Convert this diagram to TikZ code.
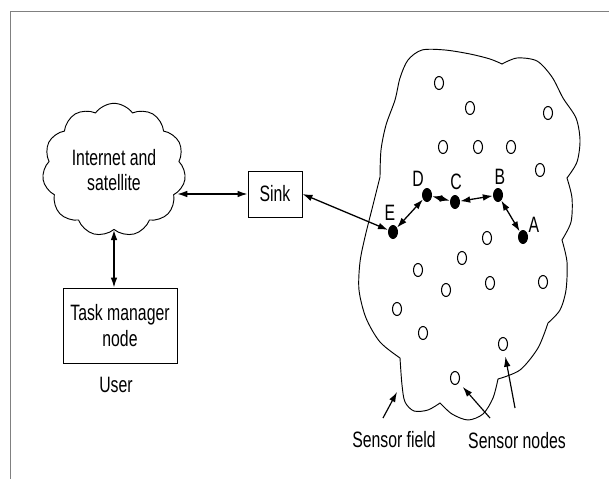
\documentclass[tikz,border=0pt]{standalone}
\usepackage{fontspec}
\setmainfont[FakeStretch=0.71]{Liberation Sans}
\usetikzlibrary{shapes.geometric,shapes.symbols,arrows.meta}

\begin{document}
\begin{tikzpicture}[x=0.03cm,y=-0.03cm,
    every node/.style={font=\fontsize{19}{22}\selectfont},
    box/.style={draw,line width=0.8pt,inner sep=0pt,align=center},
    link/.style={{Latex[length=3mm,width=2mm]}-{Latex[length=3mm,width=2mm]},line width=1.1pt},
    ptr/.style={-{Latex[length=3mm,width=2mm]},line width=1pt},
    sensor/.style={ellipse,draw,line width=0.9pt,inner sep=0pt,minimum width=0.27cm,minimum height=0.39cm},
    active/.style={ellipse,fill=black,inner sep=0pt,minimum width=0.3cm,minimum height=0.42cm}]
        \useasboundingbox (0,0) rectangle (609,479);
        \draw[gray,line width=0.8pt] (10,479) -- (10,11) -- (609,11);

        % user side
        \node[cloud,draw,line width=0.8pt,cloud puffs=11,cloud puff arc=110,aspect=1.1,
          inner sep=0pt,minimum width=4.3cm,minimum height=4cm,align=center] (inet) at (114,170) {Internet and\\satellite};
        \node[box,minimum width=1.62cm,minimum height=1.38cm] (sink) at (275,194) {Sink};
        \node[box,minimum width=3.42cm,minimum height=2.25cm] (task) at (120,325.5) {Task manager\\node};
        \node (user) at (116,385) {User};

        \draw[link] (inet.-20 |- sink.west) -- (sink.west);
        \draw[link] (inet.south) -- (inet.south |- task.north);

        % sensor field
        \draw[line width=0.8pt]
          plot[smooth] coordinates {(380,177) (381,150) (386,125) (395,100) (400,78) (408,60) (422,50) (445,50) (470,54) (490,59) (502,64)}
          -- plot[smooth] coordinates {(502,64) (517,58) (537,61) (552,77) (563,98) (576,118) (580,140) (577,162) (567,178)}
          -- plot[smooth] coordinates {(567,178) (572,198) (571,222) (562,240)}
          -- plot[smooth] coordinates {(562,240) (567,262) (566,290) (560,310) (548,323)}
          -- plot[smooth] coordinates {(548,323) (538,348) (520,370) (498,379)}
          -- plot[smooth] coordinates {(498,379) (493,398) (483,414) (468,420) (452,414) (440,403)}
          -- plot[smooth] coordinates {(440,403) (428,410) (414,411) (405,402) (402,385) (400,358)}
          -- plot[smooth] coordinates {(400,358) (380,342) (366,318) (359,290) (360,262) (365,237) (373,205) (380,177)};

        \foreach \x/\y [count=\i] in {439/83,470/108,548/113,443/147,478/147,511/147,540/170,
            487/238,462/258,418/270,490/283,543/282,446/290,397/309,423/333,503/344,455/378} {
          \node[sensor] (s\i) at (\x,\y) {};
        }

        \node[active] (A) at (523,237) {};
        \node[active] (B) at (498,195) {};
        \node[active] (C) at (455,202) {};
        \node[active] (D) at (427,195) {};
        \node[active] (E) at (393,232) {};
        \node (labA) at (534,225) {A};
        \node (labB) at (500,177) {B};
        \node (labC) at (456,182) {C};
        \node (labD) at (418,179) {D};
        \node (labE) at (390,213) {E};

        \draw[link] (sink.east) -- (E);
        \draw[link] (E) -- (D);
        \draw[link] (D) -- (C);
        \draw[link] (C) -- (B);
        \draw[link] (B) -- (A);

        % pointers
        \node (fieldlbl) at (394,440) {Sensor field};
        \node (nodeslbl) at (517,441) {Sensor nodes};
        \coordinate (fieldtail) at (383,418);
        \coordinate (fieldtip) at (397,392);
        \coordinate (tailone) at (490,418);
        \coordinate (tailtwo) at (515,408);
        \draw[ptr] (fieldtail) -- (fieldtip);
        \draw[ptr,shorten >=0.18cm] (tailone) -- (s17);
        \draw[ptr,shorten >=0.18cm] (tailtwo) -- (s16);
      \end{tikzpicture}
\end{document}
